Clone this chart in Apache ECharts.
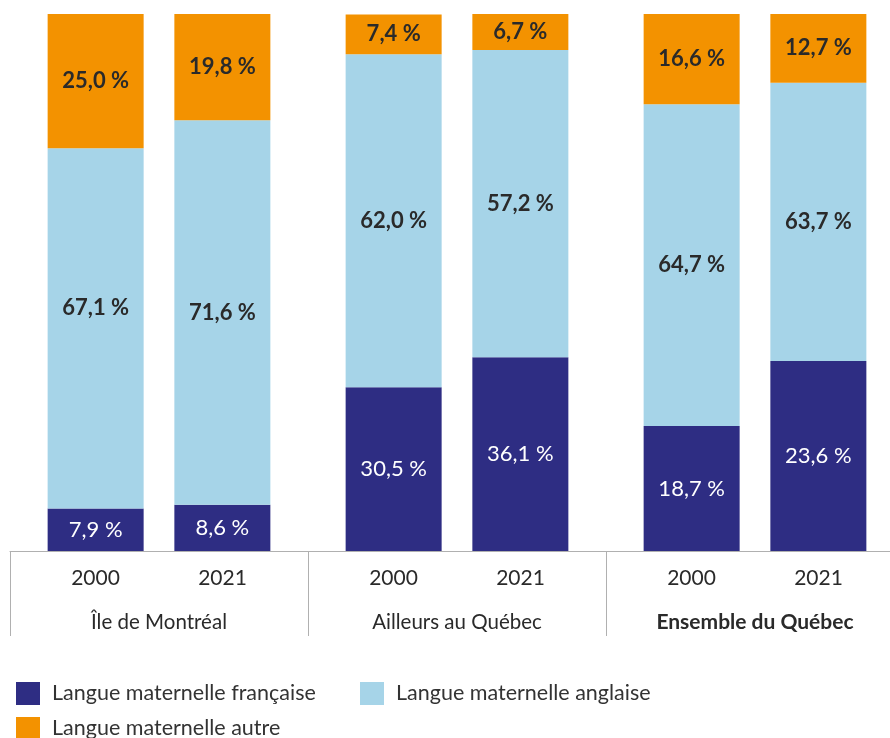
<!DOCTYPE html>
<html>
<head>
<meta charset="utf-8">
<script src="https://cdn.jsdelivr.net/npm/echarts@6/dist/echarts.min.js"></script>
<style>
  html, body { margin: 0; padding: 0; background: #fff; overflow: hidden; }
  /* the last group runs a little past the right edge in the original, so the chart is wider than the window */
  #chart { width: 910px; height: 738px; }
</style>
</head>
<body>
<div id="chart"></div>
<script>
// regions (groups on the x axis) and years (the two bars in each group)
let regions = ['Île de Montréal', 'Ailleurs au Québec', 'Ensemble du Québec'];
let years = ['2000', '2021'];
let langNames = ['Langue maternelle française', 'Langue maternelle anglaise', 'Langue maternelle autre'];

// bar heights in %, one value per region, as drawn
// (the "Ensemble" bars in the original are drawn taller/shorter than their printed labels)
let fr2000 = [7.9, 30.5, 23.3];
let fr2021 = [8.6, 36.1, 35.4];
let en2000 = [67.1, 62.0, 59.9];
let en2021 = [71.6, 57.2, 51.8];
let ot2000 = [25.0, 7.4, 16.8];
let ot2021 = [19.8, 6.7, 12.8];

// printed labels
let frLab2000 = ['7,9 %', '30,5 %', '18,7 %'];
let frLab2021 = ['8,6 %', '36,1 %', '23,6 %'];
let enLab2000 = ['67,1 %', '62,0 %', '64,7 %'];
let enLab2021 = ['71,6 %', '57,2 %', '63,7 %'];
let otLab2000 = ['25,0 %', '7,4 %', '16,6 %'];
let otLab2021 = ['19,8 %', '6,7 %', '12,7 %'];

let colors = ['#2e2d83', '#a6d4e8', '#f39200'];
let labelColors = ['#ffffff', '#2a2a2a', '#2a2a2a'];
let labelWeights = ['normal', 'bold', 'bold'];

const chart = echarts.init(document.getElementById('chart'));

// shift (px, vertical) of a label, the 67,1 % sits above the middle in the original
function makeSeries(lang, year, data, labels, shifts) {
    return {
        name: langNames[lang],
        type: 'bar',
        stack: year,
        data: data.map(function(v, i) {
            let d = { value: v };
            if (shifts && shifts[i]) d.label = { offset: [0, shifts[i]] };
            return d;
        }),
        barWidth: 96,
        barGap: '32%',
        itemStyle: { color: colors[lang] },
        label: {
            show: true,
            position: 'inside',
            formatter: function(p) { return labels[p.dataIndex]; },
            color: labelColors[lang],
            fontFamily: 'Lato',
            fontWeight: labelWeights[lang],
            fontSize: 22
        }
    };
}

let series = [
    makeSeries(0, years[0], fr2000, frLab2000),
    makeSeries(0, years[1], fr2021, frLab2021),
    makeSeries(1, years[0], en2000, enLab2000, [-21, 0, 0]),
    makeSeries(1, years[1], en2021, enLab2021),
    makeSeries(2, years[0], ot2000, otLab2000),
    makeSeries(2, years[1], ot2021, otLab2021)
];

// legend look shared by the two legend blocks; a narrow width makes the first one wrap
function legendBlock(names, left, width) {
    return {
        data: names,
        left: left,
        top: 682,
        width: width,
        padding: 0,
        icon: 'rect',
        itemWidth: 24,
        itemHeight: 23,
        itemGap: 12,
        selectedMode: false,
        textStyle: {
            fontFamily: 'Lato',
            fontSize: 21.5,
            color: '#333',
            padding: [0, 0, 0, 7]
        }
    };
}

let option = {
    animation: false,
    backgroundColor: '#ffffff',
    grid: {
        left: 10,
        top: 14,
        right: 6,
        bottom: 187
    },
    xAxis: {
        type: 'category',
        data: regions,
        axisLine: { lineStyle: { color: '#b0b0b0', width: 1 } },
        axisTick: {
            show: true,
            length: 85,
            lineStyle: { color: '#b0b0b0' }
        },
        axisLabel: {
            margin: 5,
            interval: 0,
            formatter: function(v, i) {
                let g = i === 2 ? 'gb' : 'g';
                return '{y|' + years[0] + '}{y|' + years[1] + '}\n{' + g + '|' + v + '}';
            },
            rich: {
                y: { width: 127, align: 'center', fontSize: 21, lineHeight: 44, color: '#2a2a2a', fontFamily: 'Lato' },
                g: { fontSize: 20.5, lineHeight: 44, color: '#2a2a2a', fontFamily: 'Lato' },
                gb: { fontSize: 21, lineHeight: 44, color: '#2a2a2a', fontFamily: 'Lato', fontWeight: 'bold' }
            }
        }
    },
    yAxis: {
        type: 'value',
        min: 0,
        max: 100,
        show: false
    },
    legend: [
        legendBlock([langNames[0], langNames[2]], 16, 330),
        legendBlock([langNames[1]], 360, 400)
    ],
    series: series
};

chart.setOption(option);
</script>
</body>
</html>
